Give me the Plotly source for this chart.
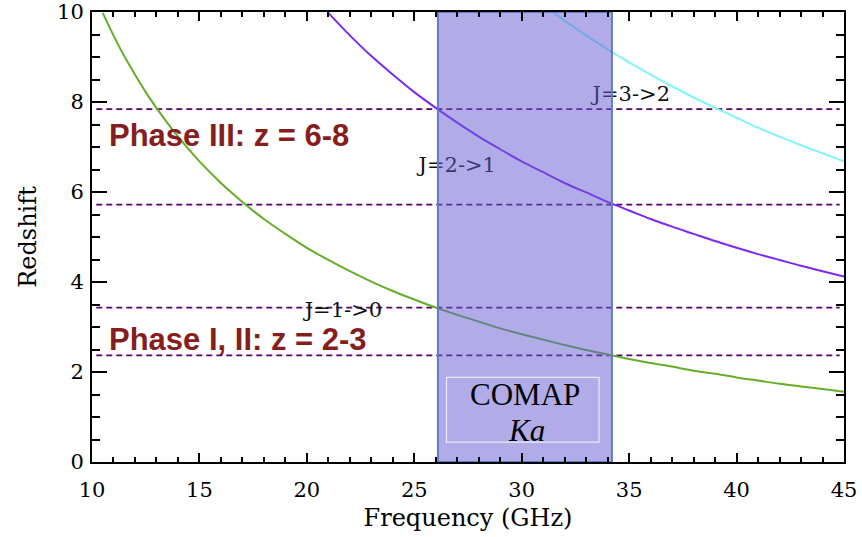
import plotly.graph_objects as go

# ---- data ----
freq_10 = [10.5, 11, 11.5, 12, 12.5, 13, 13.5, 14, 14.5, 15, 16, 17, 18, 19, 20, 21, 22, 23, 24, 25,
           26, 27, 28, 29, 30, 31, 32, 33, 34, 35, 36, 37, 38, 39, 40, 41, 42, 43, 44, 45]
z_10 = [9.98, 9.48, 9.02, 8.61, 8.22, 7.87, 7.54, 7.23, 6.95, 6.68, 6.20, 5.78, 5.40, 5.07, 4.76, 4.49,
        4.24, 4.01, 3.80, 3.61, 3.43, 3.27, 3.12, 2.97, 2.84, 2.72, 2.60, 2.49, 2.39, 2.29, 2.20, 2.12,
        2.03, 1.96, 1.88, 1.81, 1.74, 1.68, 1.62, 1.56]

freq_21 = [21, 22, 23, 24, 25, 26, 27, 28, 29, 30, 31, 32, 33, 34, 35, 36, 37, 38, 39, 40, 41, 42, 43, 44, 45]
z_21 = [9.98, 9.48, 9.02, 8.61, 8.22, 7.87, 7.54, 7.23, 6.95, 6.68, 6.44, 6.20, 5.99, 5.78, 5.59, 5.40,
        5.23, 5.07, 4.91, 4.76, 4.62, 4.49, 4.36, 4.24, 4.12]

freq_32 = [31.5, 32, 33, 34, 35, 36, 37, 38, 39, 40, 41, 42, 43, 44, 45]
z_32 = [9.98, 9.81, 9.48, 9.17, 8.88, 8.61, 8.35, 8.10, 7.87, 7.65, 7.43, 7.23, 7.04, 6.86, 6.68]

dashed_z = [7.84, 5.72, 3.43, 2.37]
dashed_x = [10.2, 44.8]

band_x = [26.1, 34.2]          # COMAP Ka band (GHz)
band_z = [0, 10]
box_x = [26.5, 33.6]           # inner label box
box_z = [0.44, 1.88]

line_labels = ["J=1->0", "J=2->1", "J=3->2"]
line_label_x = [21.7, 27.0, 35.1]
line_label_z = [3.35, 6.56, 8.15]

phase_labels = ["Phase III: z = 6-8", "Phase I, II: z = 2-3"]
phase_x = [10.7, 10.7]
phase_z = [7.26, 2.72]

x_ticks = [10, 15, 20, 25, 30, 35, 40, 45]
y_ticks = [0, 2, 4, 6, 8, 10]

fig = go.Figure()

# dashed redshift limits
for zz in dashed_z:
    fig.add_trace(go.Scatter(x=dashed_x, y=[zz, zz], mode="lines",
                             line=dict(color="rgb(90,0,110)", width=1.7, dash="6px,4px"),
                             hoverinfo="skip", showlegend=False))

# CO curves
fig.add_trace(go.Scatter(x=freq_10, y=z_10, mode="lines", line=dict(color="rgb(100,175,40)", width=2, shape="spline"),
                         showlegend=False))
fig.add_trace(go.Scatter(x=freq_21, y=z_21, mode="lines", line=dict(color="rgb(125,40,245)", width=2, shape="spline"),
                         showlegend=False))
fig.add_trace(go.Scatter(x=freq_32, y=z_32, mode="lines", line=dict(color="rgb(130,245,250)", width=2, shape="spline"),
                         showlegend=False))

# line labels (under the band)
fig.add_trace(go.Scatter(x=line_label_x, y=line_label_z, mode="text", text=line_labels,
                         textfont=dict(family="DejaVu Serif", size=21, color="#111111"),
                         textposition="middle center", hoverinfo="skip", showlegend=False))

# COMAP band (semi-transparent, drawn over curves)
fig.add_trace(go.Scatter(x=[band_x[0], band_x[1], band_x[1], band_x[0], band_x[0]],
                         y=[band_z[0], band_z[0], band_z[1], band_z[1], band_z[0]],
                         mode="lines", fill="toself", fillcolor="rgba(100,90,210,0.5)",
                         line=dict(color="rgb(95,125,200)", width=2),
                         hoverinfo="skip", showlegend=False))

fig.add_shape(type="rect", xref="x", yref="y", x0=box_x[0], x1=box_x[1], y0=box_z[0], y1=box_z[1],
              line=dict(color="rgba(255,255,255,0.75)", width=1.2), fillcolor="rgba(0,0,0,0)", layer="above")

fig.add_annotation(x=30.15, y=1.50, xref="x", yref="y", text="COMAP", showarrow=False,
                   font=dict(family="Liberation Serif", size=31, color="black"))
fig.add_annotation(x=30.2, y=0.71, xref="x", yref="y", text="<i>Ka</i>", showarrow=False,
                   font=dict(family="Liberation Serif", size=31, color="black"))

for t, xx, zz in zip(phase_labels, phase_x, phase_z):
    fig.add_annotation(x=xx, y=zz, xref="x", yref="y", text="<b>" + t + "</b>", showarrow=False,
                       xanchor="left", yanchor="middle",
                       font=dict(family="Liberation Sans", size=31, color="rgb(135,30,30)"))

axis_common = dict(showline=True, linecolor="black", linewidth=2, mirror="ticks", ticks="inside",
                   tickcolor="black", tickwidth=1.5, showgrid=False, zeroline=False,
                   ticklabeloverflow="allow", automargin=False,
                   tickfont=dict(family="DejaVu Serif", size=21, color="black"))

fig.update_xaxes(range=[10, 45], tickvals=x_ticks, ticklen=9,
                 minor=dict(dtick=1, ticklen=5, ticks="inside", tickcolor="black", tickwidth=1.5, showgrid=False),
                 title=dict(text="Frequency (GHz)", font=dict(family="DejaVu Serif", size=24, color="black"), standoff=8),
                 ticklabelstandoff=8, **axis_common)
fig.update_yaxes(range=[0, 10], tickvals=y_ticks, ticklen=15,
                 minor=dict(dtick=0.5, ticklen=8, ticks="inside", tickcolor="black", tickwidth=1.5, showgrid=False),
                 title=dict(text="Redshift", font=dict(family="DejaVu Serif", size=24, color="black"), standoff=14),
                 ticklabelstandoff=2, **axis_common)

fig.update_layout(width=862, height=537, margin=dict(l=92, r=18, t=12, b=75, autoexpand=False),
                  plot_bgcolor="white", paper_bgcolor="white", showlegend=False)

fig.write_html("out.html")
